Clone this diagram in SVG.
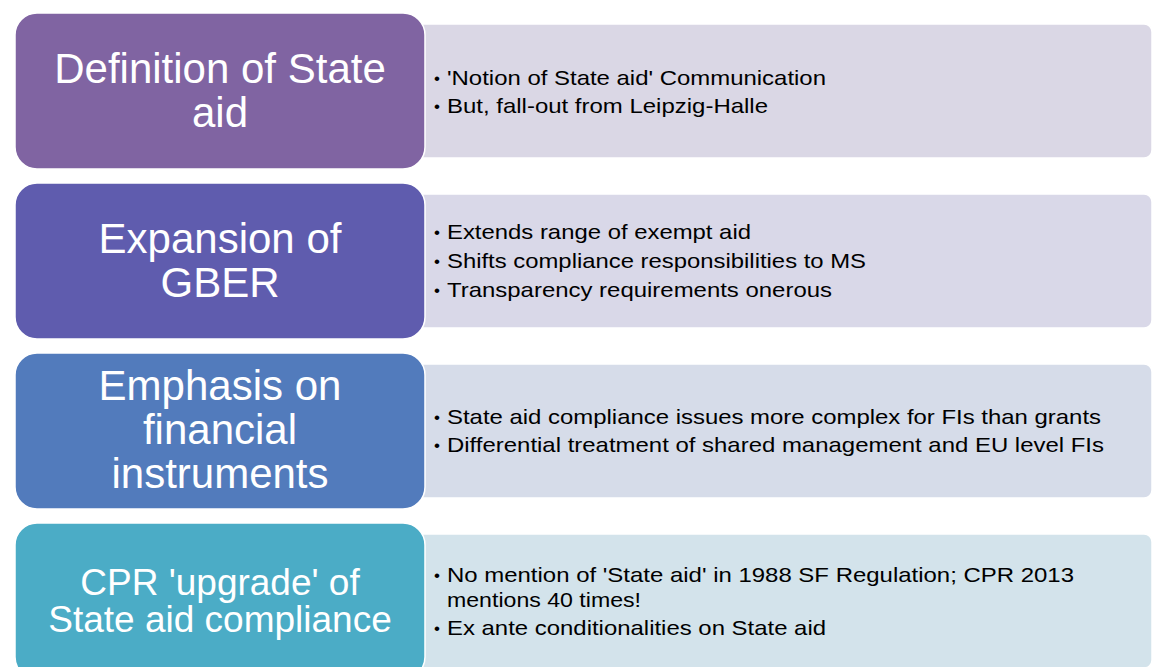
<svg xmlns="http://www.w3.org/2000/svg" width="1153" height="667" viewBox="0 0 1153 667">
<style>
.hd{font-family:"Liberation Sans",Arial,sans-serif;fill:#ffffff;text-anchor:middle}
.bt{font-family:"Liberation Sans",Arial,sans-serif;font-size:21px;fill:#000000}
.bl{font-family:"Liberation Sans",Arial,sans-serif;font-size:17px;fill:#000000}
.rb{stroke:#ffffff;stroke-width:1.5}
.lb{stroke:#ffffff;stroke-width:1.5}
</style>
<rect width="1153" height="667" fill="#ffffff"/>
<g id="connectors"></g>
<g id="detail1">
<rect class="rb" x="400" y="24" width="752" height="134" rx="8" fill="#DAD7E5"/>
<text class="bl" x="434" y="84">•</text>
<text class="bt" x="447" y="85" textLength="379" lengthAdjust="spacingAndGlyphs">'Notion of State aid' Communication</text>
<text class="bl" x="434" y="112">•</text>
<text class="bt" x="447" y="113" textLength="321" lengthAdjust="spacingAndGlyphs">But, fall-out from Leipzig-Halle</text>
</g>
<g id="detail2">
<rect class="rb" x="400" y="194" width="752" height="134" rx="8" fill="#D9D8E8"/>
<text class="bl" x="434" y="238">•</text>
<text class="bt" x="447" y="239" textLength="304" lengthAdjust="spacingAndGlyphs">Extends range of exempt aid</text>
<text class="bl" x="434" y="267">•</text>
<text class="bt" x="447" y="268" textLength="419" lengthAdjust="spacingAndGlyphs">Shifts compliance responsibilities to MS</text>
<text class="bl" x="434" y="296">•</text>
<text class="bt" x="447" y="297" textLength="385" lengthAdjust="spacingAndGlyphs">Transparency requirements onerous</text>
</g>
<g id="detail3">
<rect class="rb" x="400" y="364" width="752" height="134" rx="8" fill="#D6DCE9"/>
<text class="bl" x="434" y="423">•</text>
<text class="bt" x="447" y="424" textLength="654" lengthAdjust="spacingAndGlyphs">State aid compliance issues more complex for FIs than grants</text>
<text class="bl" x="434" y="451">•</text>
<text class="bt" x="447" y="452" textLength="657" lengthAdjust="spacingAndGlyphs">Differential treatment of shared management and EU level FIs</text>
</g>
<g id="detail4">
<rect class="rb" x="400" y="534" width="752" height="134" rx="8" fill="#D3E3EB"/>
<text class="bl" x="434" y="581">•</text>
<text class="bt" x="447" y="582" textLength="627" lengthAdjust="spacingAndGlyphs">No mention of 'State aid' in 1988 SF Regulation; CPR 2013</text>
<text class="bt" x="447" y="607" textLength="194" lengthAdjust="spacingAndGlyphs">mentions 40 times!</text>
<text class="bl" x="434" y="634">•</text>
<text class="bt" x="447" y="635" textLength="379" lengthAdjust="spacingAndGlyphs">Ex ante conditionalities on State aid</text>
</g>
<g id="node1">
<rect class="lb" x="15" y="13" width="410" height="156" rx="22" fill="#8064A2"/>
<text class="hd" x="220" y="83" font-size="42">Definition of State</text>
<text class="hd" x="220" y="127" font-size="42">aid</text>
</g>
<g id="node2">
<rect class="lb" x="15" y="183" width="410" height="156" rx="22" fill="#5F5CAE"/>
<text class="hd" x="220" y="253" font-size="42">Expansion of</text>
<text class="hd" x="220" y="297" font-size="42">GBER</text>
</g>
<g id="node3">
<rect class="lb" x="15" y="353" width="410" height="156" rx="22" fill="#527BBC"/>
<text class="hd" x="220" y="400" font-size="42">Emphasis on</text>
<text class="hd" x="220" y="444" font-size="42">financial</text>
<text class="hd" x="220" y="488" font-size="42">instruments</text>
</g>
<g id="node4">
<rect class="lb" x="15" y="523" width="410" height="156" rx="22" fill="#4BACC6"/>
<text class="hd" x="220" y="595" font-size="37">CPR 'upgrade' of</text>
<text class="hd" x="220" y="632" font-size="37">State aid compliance</text>
</g>
</svg>
